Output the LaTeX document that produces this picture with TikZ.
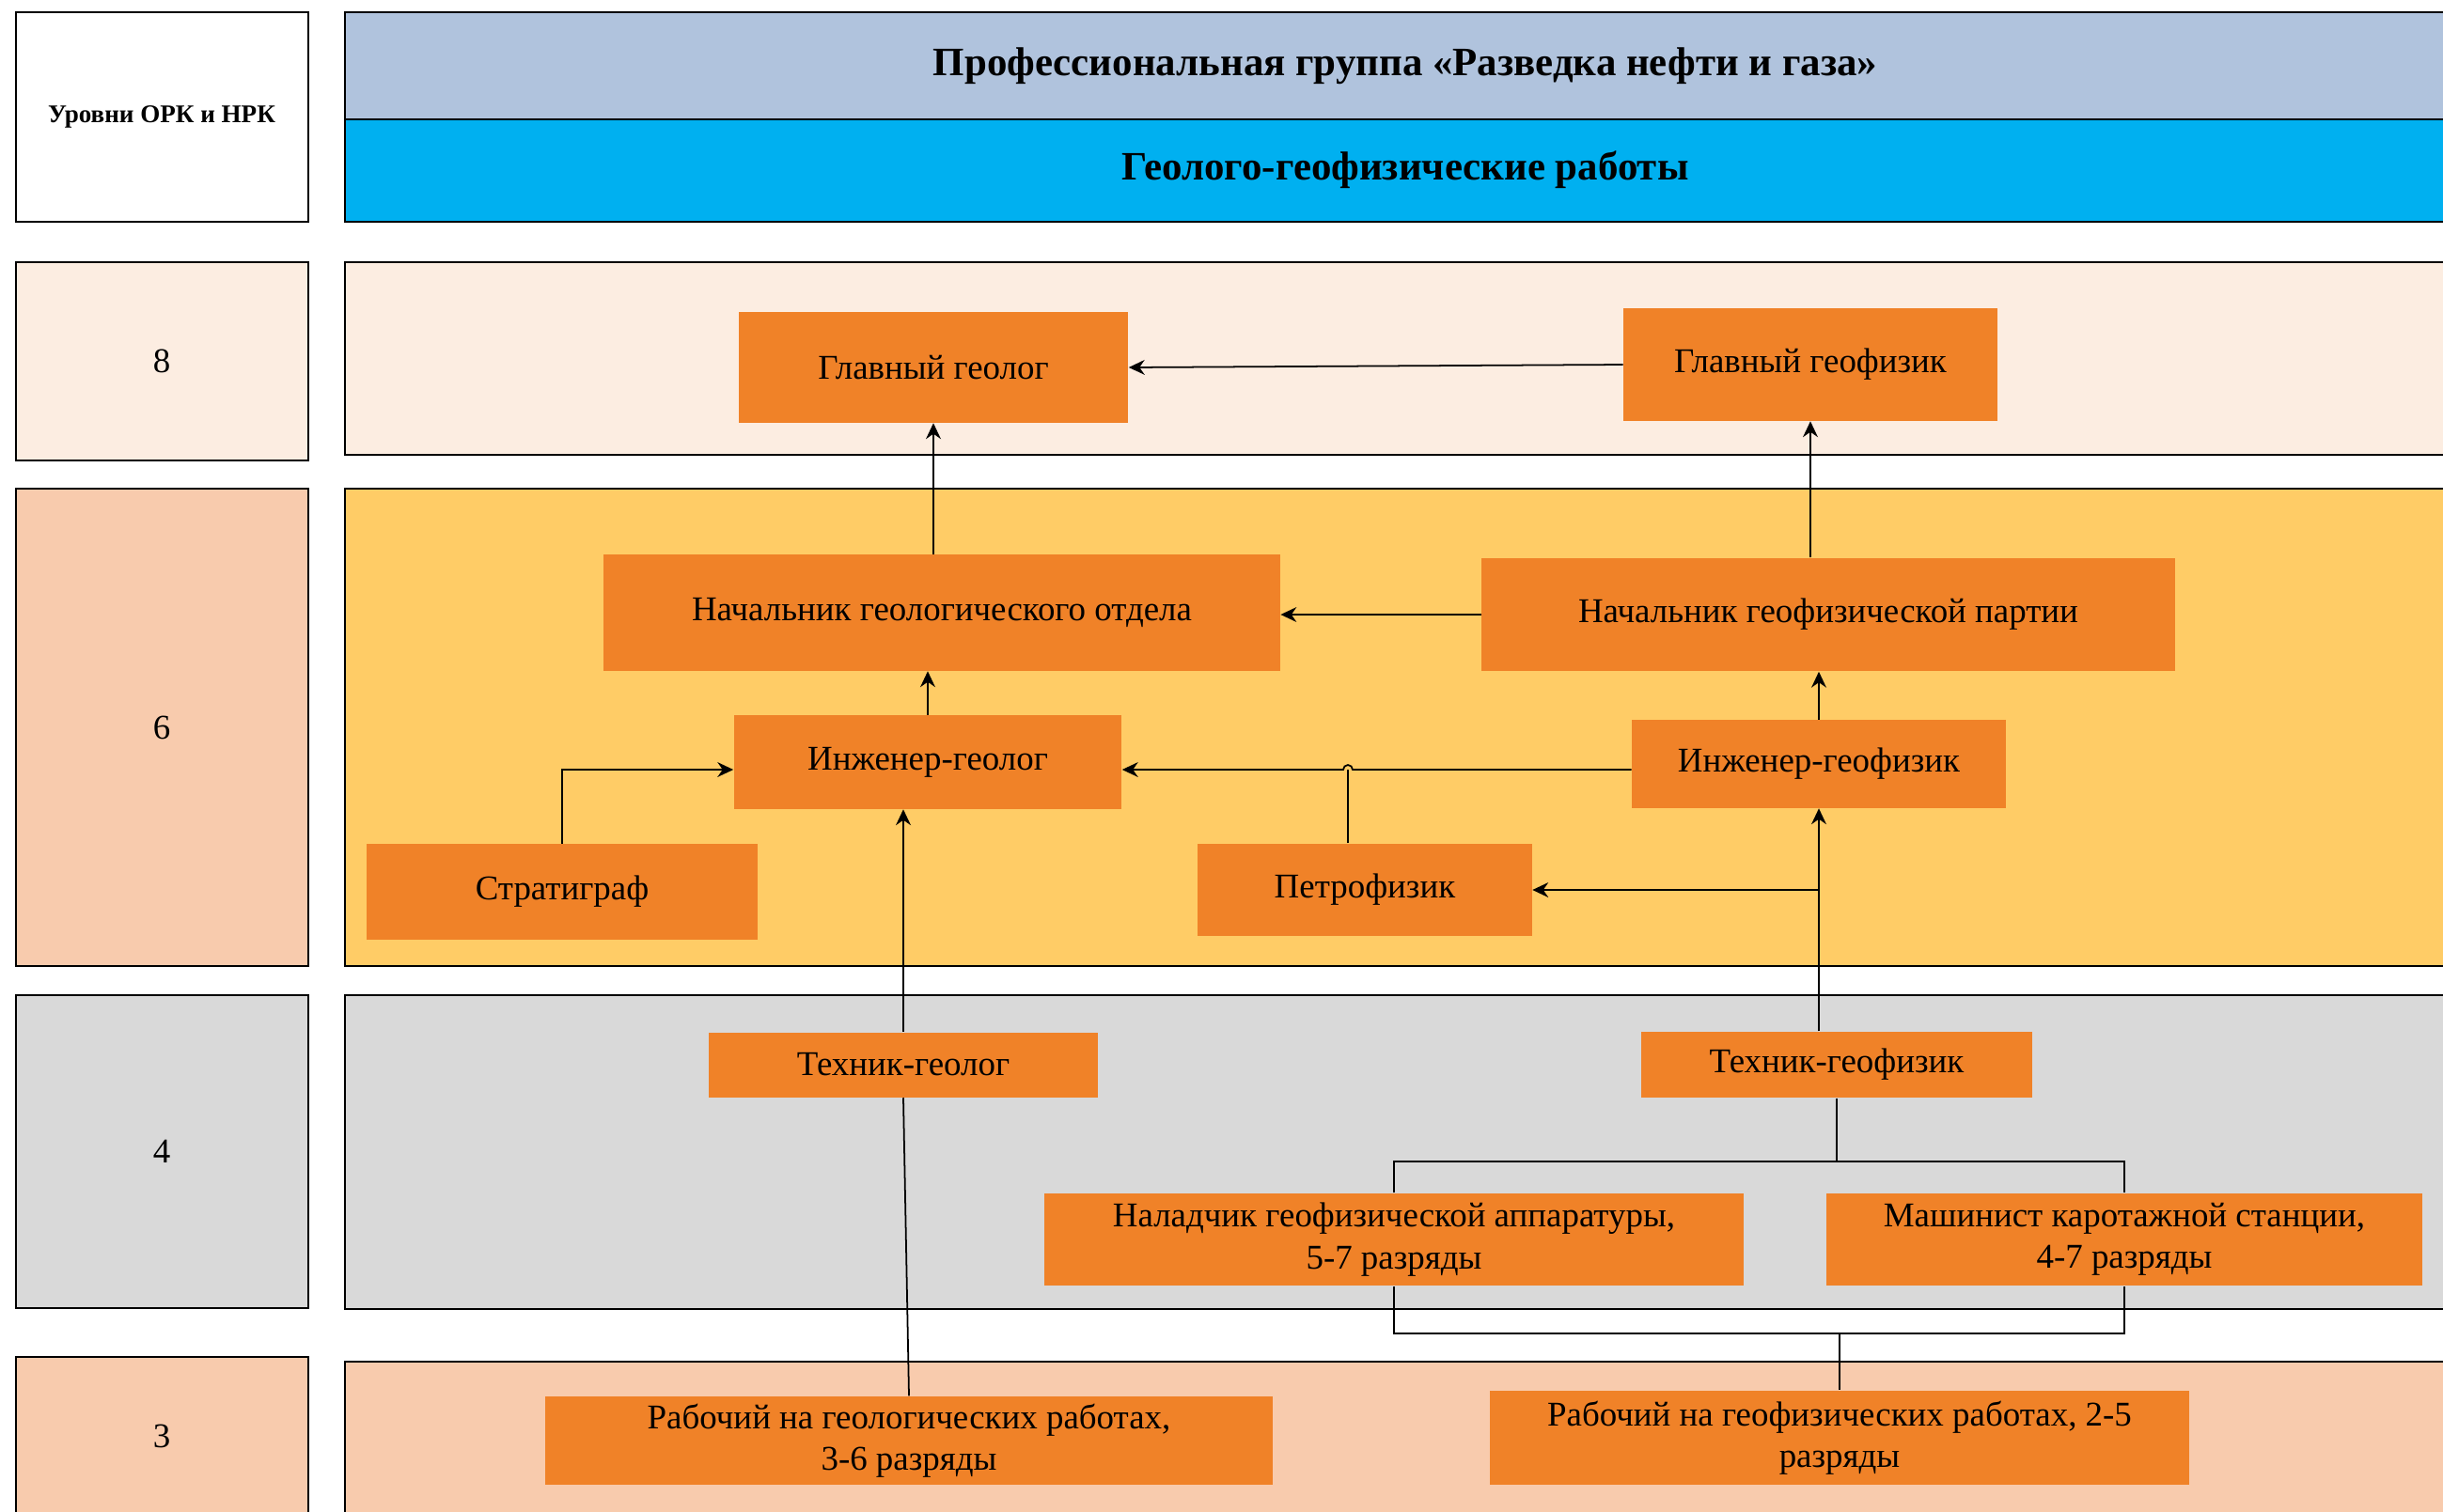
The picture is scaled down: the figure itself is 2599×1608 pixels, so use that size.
\documentclass[tikz,border=0pt]{standalone}
\usepackage{fontspec}
\setmainfont{Liberation Serif}
\usetikzlibrary{arrows.meta}

\definecolor{jobfill}{RGB}{240,130,40}
\definecolor{headtop}{RGB}{176,195,221}
\definecolor{headbot}{RGB}{0,176,240}
\definecolor{lvleight}{RGB}{252,237,225}
\definecolor{lvlsix}{RGB}{255,204,102}
\definecolor{lvlfour}{RGB}{217,217,217}
\definecolor{lvlthree}{RGB}{248,203,173}

\begin{document}
\begin{tikzpicture}[x=0.01cm, y=-0.01cm,
		band/.style	= {draw=black, line width=0.6pt},
		job/.style	= {rectangle, fill=jobfill, inner sep=0pt, align=center,
			font=\fontsize{10.5}{12.6}\selectfont},
		link/.style	= {line width=0.5pt, black},
		arr/.style	= {link, -{Stealth[length=4.8pt, width=4.5pt]}}]
		%\draw[help lines] (0,0) grid (2599,1608);
		\useasboundingbox (0,0) rectangle (2599,1608);
		\clip (0,0) rectangle (2599,1608);

		% levels
		\draw[band, fill=white] (17,13) rectangle (328,236);
		\draw[band, fill=lvleight] (17,279) rectangle (328,490);
		\draw[band, fill=lvlthree] (17,520) rectangle (328,1028);
		\draw[band, fill=lvlfour] (17,1059) rectangle (328,1392);
		\draw[band, fill=lvlthree] (17,1444) rectangle (328,1640);

		\draw[band, fill=headtop] (367,13) rectangle (2625,127);
		\draw[band, fill=headbot] (367,127) rectangle (2625,236);
		\draw[band, fill=lvleight] (367,279) rectangle (2625,484);
		\draw[band, fill=lvlsix] (367,520) rectangle (2625,1028);
		\draw[band, fill=lvlfour] (367,1059) rectangle (2625,1393);
		\draw[band, fill=lvlthree] (367,1449) rectangle (2625,1640);

		\node[font=\fontsize{7.7}{9}\selectfont\bfseries] (lvl) at (172,124) {Уровни ОРК и НРК};
		\node[font=\fontsize{10.5}{12.6}\selectfont] (l8) at (172,384) {8};
		\node[font=\fontsize{10.5}{12.6}\selectfont] (l6) at (172,774) {6};
		\node[font=\fontsize{10.5}{12.6}\selectfont] (l4) at (172,1225) {4};
		\node[font=\fontsize{10.5}{12.6}\selectfont] (l3) at (172,1528) {3};

		\node[font=\fontsize{12.2}{14}\selectfont\bfseries] (grp) at (1495,70) {Профессиональная группа «Разведка нефти и газа»};
		\node[font=\fontsize{12.2}{14}\selectfont\bfseries] (wrk) at (1495,181) {Геолого-геофизические работы};

		% posts
		\node[job, minimum width=4.14cm, minimum height=1.17cm] (gg) at (993,391) {Главный геолог};
		\node[job, minimum width=3.97cm, minimum height=1.19cm] (ggf) at (1926,388) {Главный геофизик};
		\node[job, minimum width=7.19cm, minimum height=1.23cm] (ngo) at (1002,652) {Начальник геологического отдела};
		\node[job, minimum width=7.37cm, minimum height=1.20cm] (ngp) at (1945,654) {Начальник геофизической партии};
		\node[job, minimum width=4.12cm, minimum height=0.99cm] (igl) at (987,811) {Инженер-геолог};
		\node[job, minimum width=3.97cm, minimum height=0.93cm] (igf) at (1935,813) {Инженер-геофизик};
		\node[job, minimum width=4.15cm, minimum height=1.01cm] (st) at (598,949) {Стратиграф};
		\node[job, minimum width=3.55cm, minimum height=0.98cm] (pf) at (1452,947) {Петрофизик};
		\node[job, minimum width=4.14cm, minimum height=0.69cm] (tgl) at (961,1133) {Техник-геолог};
		\node[job, minimum width=4.15cm, minimum height=0.70cm] (tgf) at (1954,1133) {Техник-геофизик};
		\node[job, minimum width=7.44cm, minimum height=0.98cm] (nal) at (1483,1319) {Наладчик геофизической аппаратуры,\\5-7 разряды};
		\node[job, minimum width=6.33cm, minimum height=0.98cm] (mash) at (2260,1319) {Машинист каротажной станции,\\4-7 разряды};
		\node[job, minimum width=7.74cm, minimum height=0.94cm] (rgl) at (967,1533) {Рабочий на геологических работах,\\3-6 разряды};
		\node[job, minimum width=7.44cm, minimum height=1.00cm] (rgf) at (1957,1530) {Рабочий на геофизических работах, 2-5\\разряды};

		\coordinate (hop) at (1434,819);
		\coordinate (tgfsplit) at (1954,1236);
		\coordinate (rgfsplit) at (1957,1419);

		% links
		\draw[arr] (ggf.west) -- (gg.east);
		\draw[arr] (gg.south |- ngo.north) -- (gg.south);
		\draw[arr] (ggf.south |- ngp.north) -- (ggf.south);
		\draw[arr] (ngp.west) -- (ngp.west -| ngo.east);
		\draw[arr] (igl.north) -- (igl.north |- ngo.south);
		\draw[arr] (igf.north) -- (igf.north |- ngp.south);
		\draw[arr] (igf.west |- hop) -- ([xshift=0.05cm]hop) arc[start angle=0, end angle=180, radius=0.05cm] -- (igl.east |- hop);
		\draw[link] (pf.north -| hop) -- (hop);
		\draw[arr] (st.north) |- (igl.west |- hop);
		\draw[arr] (igf.south |- tgf.north) -- (igf.south);
		\draw[arr] (igf.south |- pf.east) -- (pf.east);
		\draw[arr] (tgl.north) -- (tgl.north |- igl.south);
		\draw[link] (rgl.north) -- (tgl.south);
		\draw[link] (tgf.south) -- (tgfsplit);
		\draw[link] (nal.north) |- (tgfsplit) -| (mash.north);
		\draw[link] (nal.south) |- (rgfsplit) -| (mash.south);
		\draw[link] (rgfsplit) -- (rgf.north);
\end{tikzpicture}
\end{document}
